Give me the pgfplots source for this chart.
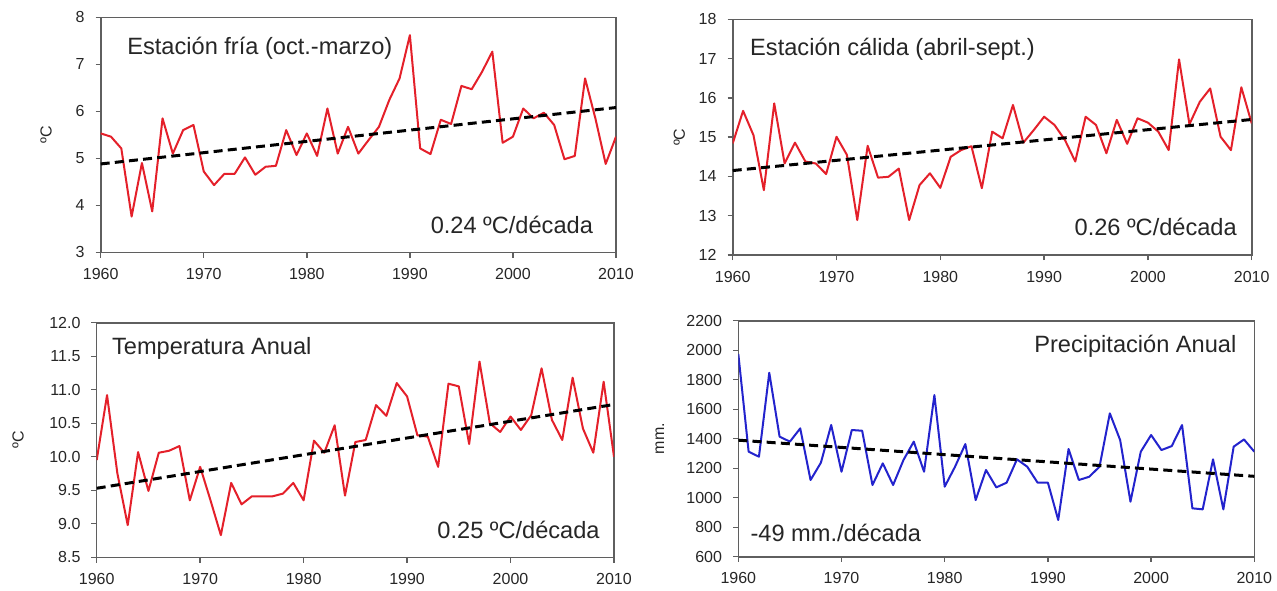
\documentclass[border=0pt]{standalone}
\usepackage{fontspec}
\setmainfont{Liberation Sans}
\usepackage{pgfplots}
\pgfplotsset{compat=1.18}
\usepackage{pgfplotstable}

\definecolor{redl}{RGB}{228,32,42}
\definecolor{bluel}{RGB}{35,35,205}
\definecolor{framec}{RGB}{95,95,95}

\pgfplotstableread{
year val
1960 5.53
1961 5.46
1962 5.21
1963 3.76
1964 4.90
1965 3.87
1966 5.85
1967 5.10
1968 5.60
1969 5.71
1970 4.72
1971 4.43
1972 4.67
1973 4.67
1974 5.02
1975 4.65
1976 4.82
1977 4.84
1978 5.60
1979 5.07
1980 5.53
1981 5.05
1982 6.06
1983 5.10
1984 5.67
1985 5.10
1986 5.39
1987 5.67
1988 6.24
1989 6.70
1990 7.62
1991 5.21
1992 5.09
1993 5.82
1994 5.73
1995 6.54
1996 6.47
1997 6.84
1998 7.27
1999 5.33
2000 5.46
2001 6.06
2002 5.85
2003 5.97
2004 5.71
2005 4.98
2006 5.05
2007 6.70
2008 5.85
2009 4.88
2010 5.46
}\fria

\pgfplotstableread{
year val
1960 14.84
1961 15.67
1962 15.05
1963 13.65
1964 15.86
1965 14.33
1966 14.86
1967 14.38
1968 14.33
1969 14.06
1970 15.01
1971 14.55
1972 12.89
1973 14.78
1974 13.97
1975 13.99
1976 14.20
1977 12.89
1978 13.78
1979 14.08
1980 13.71
1981 14.50
1982 14.67
1983 14.77
1984 13.70
1985 15.14
1986 14.97
1987 15.82
1988 14.86
1989 15.18
1990 15.52
1991 15.31
1992 14.93
1993 14.38
1994 15.52
1995 15.31
1996 14.59
1997 15.44
1998 14.83
1999 15.48
2000 15.37
2001 15.14
2002 14.67
2003 16.98
2004 15.33
2005 15.90
2006 16.24
2007 15.01
2008 14.67
2009 16.27
2010 15.35
}\calida

\pgfplotstableread{
year val
1960 9.95
1961 10.92
1962 9.75
1963 8.98
1964 10.07
1965 9.49
1966 10.06
1967 10.09
1968 10.16
1969 9.35
1970 9.85
1971 9.35
1972 8.83
1973 9.61
1974 9.29
1975 9.41
1976 9.41
1977 9.41
1978 9.45
1979 9.61
1980 9.35
1981 10.24
1982 10.06
1983 10.47
1984 9.42
1985 10.22
1986 10.25
1987 10.77
1988 10.61
1989 11.10
1990 10.90
1991 10.32
1992 10.30
1993 9.85
1994 11.09
1995 11.05
1996 10.19
1997 11.42
1998 10.50
1999 10.37
2000 10.60
2001 10.40
2002 10.62
2003 11.32
2004 10.55
2005 10.25
2006 11.18
2007 10.42
2008 10.06
2009 11.12
2010 10.00
}\anual

\pgfplotstableread{
year val
1960 1975
1961 1312
1962 1278
1963 1847
1964 1414
1965 1380
1966 1470
1967 1120
1968 1237
1969 1493
1970 1176
1971 1459
1972 1454
1973 1086
1974 1233
1975 1086
1976 1255
1977 1380
1978 1176
1979 1696
1980 1075
1981 1210
1982 1364
1983 984
1984 1188
1985 1070
1986 1102
1987 1260
1988 1210
1989 1102
1990 1102
1991 849
1992 1330
1993 1120
1994 1142
1995 1210
1996 1572
1997 1391
1998 973
1999 1312
2000 1425
2001 1323
2002 1350
2003 1493
2004 928
2005 921
2006 1260
2007 921
2008 1346
2009 1395
2010 1312
}\precip

\pgfplotsset{
  panel/.style={
    scale only axis,
    anchor=south west,
    xmin=1960, xmax=2010,
    xtick={1960,1970,...,2010},
    axis line style={framec, line width=0.8pt},
    every tick/.style={framec, line width=0.7pt},
    tick align=outside,
    major tick length=2.6pt,
    xtick pos=bottom, ytick pos=left,
    ticklabel style={font=\fontsize{8}{9}\selectfont, text=black!85},
    xticklabel style={yshift=-1.8pt},
    yticklabel style={xshift=-2pt},
    /pgf/number format/assume math mode=true,
    /pgf/number format/1000 sep={},
    ylabel style={font=\fontsize{8}{9}\selectfont, text=black!85, anchor=center},
  },
  dataline/.style={line width=1pt, no markers, line join=round},
  trend/.style={black, line width=1.5pt, dash pattern=on 4.5pt off 2.6pt, no markers},
}
\tikzset{lab/.style={font=\fontsize{11.8}{14}\selectfont, text=black!85, inner sep=0pt}}

\begin{document}
\begin{tikzpicture}
\useasboundingbox (0,0) rectangle (638.5pt,295pt);

% Panel 1
\begin{axis}[panel, at={(50.35pt,168.85pt)}, width=257.65pt, height=117.5pt,
  ymin=3, ymax=8, ytick={3,4,...,8}, ylabel={ºC},
  ylabel style={at={(rel axis cs:-0.106,0.5)}}]
  \addplot[dataline, redl] table[x=year,y=val]{\fria};
  \addplot[trend] coordinates {(1960,4.88) (2010,6.08)};
  \node[lab, anchor=west] at (rel axis cs:0.051,0.87) {Estación fría (oct.-marzo)};
  \node[lab, anchor=east] at (rel axis cs:0.956,0.116) {0.24 ºC/década};
\end{axis}

% Panel 2
\begin{axis}[panel, at={(366.35pt,167.5pt)}, width=259.5pt, height=117.85pt,
  ymin=12, ymax=18, ytick={12,13,...,18}, ylabel={ºC},
  ylabel style={at={(rel axis cs:-0.103,0.5)}}]
  \addplot[dataline, redl] table[x=year,y=val]{\calida};
  \addplot[trend] coordinates {(1960,14.15) (2010,15.45)};
  \node[lab, anchor=west] at (rel axis cs:0.033,0.873) {Estación cálida (abril-sept.)};
  \node[lab, anchor=east] at (rel axis cs:0.972,0.119) {0.26 ºC/década};
\end{axis}

% Panel 3
\begin{axis}[panel, at={(48.35pt,16.35pt)}, width=258.65pt, height=117.3pt,
  ymin=8.5, ymax=12, ytick={8.5,9,...,12}, ylabel={ºC},
  ylabel style={at={(rel axis cs:-0.152,0.5)}},
  yticklabel style={/pgf/number format/.cd, fixed, fixed zerofill, precision=1}]
  \addplot[dataline, redl] table[x=year,y=val]{\anual};
  \addplot[trend] coordinates {(1960,9.53) (2010,10.78)};
  \node[lab, anchor=west] at (rel axis cs:0.029,0.89) {Temperatura Anual};
  \node[lab, anchor=east] at (rel axis cs:0.973,0.116) {0.25 ºC/década};
\end{axis}

% Panel 4
\begin{axis}[panel, at={(369.15pt,16.65pt)}, width=258pt, height=118pt,
  ymin=600, ymax=2200, ytick={600,800,...,2200}, ylabel={mm.},
  ylabel style={at={(rel axis cs:-0.152,0.5)}}]
  \addplot[dataline, bluel] table[x=year,y=val]{\precip};
  \addplot[trend] coordinates {(1960,1390) (2010,1145)};
  \node[lab, anchor=east] at (rel axis cs:0.966,0.89) {Precipitación Anual};
  \node[lab, anchor=west] at (rel axis cs:0.023,0.10) {-49 mm./década};
\end{axis}
\end{tikzpicture}
\end{document}
